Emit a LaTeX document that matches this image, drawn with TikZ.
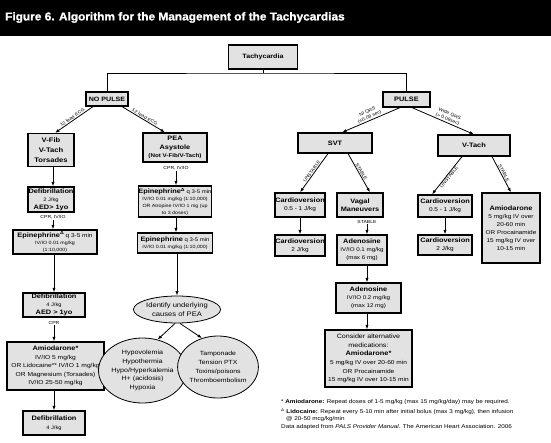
\documentclass[tikz,border=0pt]{standalone}
\usepackage{fontspec}
\setmainfont[FakeStretch=1.15]{Liberation Sans}
\newfontfamily\titlefont[FakeStretch=1.04,FakeBold=1.3]{Liberation Sans}
\usetikzlibrary{arrows.meta,shapes.geometric}
\definecolor{boxgray}{RGB}{226,226,226}
\newcommand\fs[2]{\fontsize{#1}{#2}\selectfont}
\newcommand\Hd{\fontsize{6.4}{8}\selectfont\bfseries}
\newcommand\tri{\textsuperscript{Δ}}
\begin{document}
\begin{tikzpicture}[x=1pt,y=-1pt,
  box/.style={draw,line width=1.2pt,fill=boxgray,align=center,inner sep=0pt},
  oval/.style={draw,line width=0.8pt,fill=boxgray,ellipse,align=center,inner sep=0pt},
  arr/.style={-{Latex[length=4.5pt,width=3.2pt]},line width=0.8pt},
  ln/.style={line width=0.8pt},
  lbl/.style={inner sep=0.8pt,align=center,font=\fs{4.4}{5.6}},
  steplbl/.style={inner sep=0.6pt,font=\fs{4.4}{5}},
  foot/.style={anchor=west,inner sep=0pt,font=\fs{5.5}{6}}]
\useasboundingbox (0,0) rectangle (551,442);
\fill[white] (0,0) rectangle (551,442);
\fill[black] (0,0) rectangle (551,36);
\node[anchor=west,text=white,inner sep=0pt,font=\titlefont\bfseries\fs{11.4}{13}] (title) at (5,17.5) {Figure 6. Algorithm for the Management of the Tachycardias};

% top
\node[box,minimum width=69,minimum height=24,font=\fs{6.2}{8}\bfseries] (tach) at (263,57) {Tachycardia};
\node[box,minimum width=42,minimum height=14,font=\fs{6.2}{8}\bfseries] (nop) at (107,99) {NO PULSE};
\node[box,minimum width=47,minimum height=15,font=\fs{6.4}{8}\bfseries] (pul) at (406.5,99.5) {PULSE};
\coordinate (j) at (263,73);
\draw[ln] (tach.south) -- (j);
\draw[ln] (nop.north) |- (j) -| (pul.north);

% left column
\node[box,minimum width=46,minimum height=33,font=\fs{6.6}{10}\bfseries] (vfib) at (51,150) {V-Fib\\V-Tach\\Torsades};
\node[box,minimum width=46,minimum height=25,font=\fs{5}{8}] (def1) at (51,199.5) {{\Hd Defibrillation}\\2 J/kg\\{\Hd AED> 1yo}};
\node[steplbl] (lab1) at (53,217) {CPR, IV/IO};
\node[box,minimum width=84,minimum height=24,font=\fs{4.6}{7}] (epi1) at (55,242) {{\Hd Epinephrine\tri} {\fs{5.6}{7}q 3-5 min}\\IV/IO 0.01 mg/kg\\(1:10,000)};
\node[box,minimum width=62,minimum height=24,font=\fs{5}{8}] (def2) at (54,305) {{\Hd Defibrillation}\\4 J/kg\\{\Hd AED > 1yo}};
\node[steplbl] (lab2) at (54,323) {CPR};
\node[box,minimum width=97,minimum height=48,font=\fs{5.8}{8.6}] (amio1) at (55.5,366) {{\Hd Amiodarone*}\\IV/IO 5 mg/kg\\OR Lidocaine** IV/IO 1 mg/kg\\OR Magnesium (Torsades)\\IV/IO 25-50 mg/kg};
\node[box,minimum width=62,minimum height=24,font=\fs{5}{9}] (def3) at (54,423) {{\Hd Defibrillation}\\4 J/kg};

% middle column
\node[box,minimum width=64,minimum height=29,font=\fs{6.4}{8.8}\bfseries] (pea) at (175,147.5) {PEA\\Asystole\\{\fs{5.4}{8}(Not V-Fib/V-Tach)}};
\node[steplbl] (lab3) at (176,168) {CPR, IV/IO};
\node[box,minimum width=66,minimum height=31,font=\fs{4.6}{6.8}] (epi2) at (175,201.5) {{\Hd Epinephrine\tri} {\fs{5.2}{7}q 3-5 min}\\IV/IO 0.01 mg/kg (1:10,000)\\OR Atropine IV/IO 1 mg (up\\to 3 doses)};
\node[box,minimum width=75,minimum height=20,font=\fs{4.6}{7.5}] (epi3) at (175,243) {{\Hd Epinephrine} {\fs{5.2}{7}q 3-5 min}\\IV/IO 0.01 mg/kg (1:10,000)};
\node[oval,minimum width=83,minimum height=27,font=\fs{6.6}{8.5}] (ell) at (177,309.5) {Identify underlying\\causes of PEA};
\node[oval,minimum width=59,minimum height=65,font=\fs{6.2}{8.8}] (c1) at (142.5,370.5) {Hypovolemia\\Hypothermia\\Hypo/Hyperkalemia\\H+ (acidosis)\\Hypoxia};
\node[oval,minimum width=59,minimum height=62,font=\fs{6}{9}] (c2) at (218,367) {Tamponade\\Tension PTX\\Toxins/poisons\\Thromboembolism};

\draw[arr] ([xshift=-14]nop.south) -- node[lbl,sloped,above]{12 lead ECG} ([xshift=4]vfib.north);
\draw[arr] ([xshift=15]nop.south) -- node[lbl,sloped,above]{12 lead ECG} ([xshift=-10]pea.north);
\draw[arr] (vfib.south -| lab1) -- (lab1 |- def1.north);
\draw[arr] (lab1.south) -- (lab1.south |- epi1.north);
\draw[arr] (epi1.south -| lab2) -- (lab2 |- def2.north);
\draw[arr] (lab2.south) -- (lab2.south |- amio1.north);
\draw[arr] (amio1.south -| lab2) -- (lab2 |- def3.north);

\draw[arr] (lab3.south) -- (lab3.south |- epi2.north);
\draw[arr] (epi2.south -| lab3) -- (lab3 |- epi3.north);
\draw[arr] (epi3.south -| ell) -- (ell.north);
\draw[arr] (ell.262) -- (c1.64);
\draw[arr] (ell.282) -- (c2.119);

% right side
\node[box,minimum width=74,minimum height=20,font=\fs{6.4}{8}\bfseries] (svt) at (335,143) {SVT};
\node[box,minimum width=72,minimum height=21,font=\fs{6.4}{8}\bfseries] (vt) at (474,145.5) {V-Tach};
\draw[arr] ([xshift=-6.5]pul.south) -- node[lbl,sloped,above]{Nl QRS\\(≤0.08 sec)} ([xshift=7]svt.north);
\draw[arr] ([xshift=5.5]pul.south) -- node[lbl,sloped,above,pos=0.55]{Wide QRS\\(> 0.08sec)} (vt.north);

\node[box,minimum width=50,minimum height=24,font=\fs{5.6}{8}] (cl1) at (300,205) {{\Hd Cardioversion}\\0.5 - 1 J/kg};
\node[box,minimum width=50,minimum height=21,font=\fs{5.6}{8}] (cl2) at (300,245.5) {{\Hd Cardioversion}\\2 J/kg};
\node[box,minimum width=46,minimum height=24,font=\fs{6.4}{8.5}\bfseries] (vag) at (360,205) {Vagal\\Maneuvers};
\node[steplbl] (lab4) at (367,222) {STABLE};
\node[box,minimum width=50,minimum height=30,font=\fs{5.4}{7.8}] (ad1) at (362,250) {{\Hd Adenosine}\\IV/IO 0.1 mg/kg\\(max 6 mg)};
\node[box,minimum width=65,minimum height=30,font=\fs{5.4}{7.8}] (ad2) at (368.5,298) {{\Hd Adenosine}\\IV/IO 0.2 mg/kg\\(max 12 mg)};
\node[box,minimum width=87,minimum height=57,font=\fs{5.7}{8.6}] (cons) at (368.5,358.5) {{\fs{6.2}{8}Consider alternative}\\{\fs{6.2}{8}medications:}\\{\Hd Amiodarone*}\\5 mg/kg IV over 20-60 min\\OR Procainamide\\15 mg/kg IV over 10-15 min};

\node[box,minimum width=54,minimum height=22,font=\fs{5.6}{8}] (cr1) at (445,206) {{\Hd Cardioversion}\\0.5 - 1 J/kg};
\node[box,minimum width=54,minimum height=20,font=\fs{5.6}{8}] (cr2) at (445,245) {{\Hd Cardioversion}\\2 J/kg};
\node[box,minimum width=58,minimum height=70,font=\fs{5.6}{8}] (amr) at (511,228) {{\Hd Amiodarone}\\5 mg/kg IV over\\20-60 min\\OR Procainamide\\15 mg/kg IV over\\10-15 min};

\draw[arr] ([xshift=-7]svt.south) -- node[lbl,sloped,above]{UNSTABLE} (cl1.north);
\draw[arr] ([xshift=13]svt.south) -- node[lbl,sloped,above]{STABLE} ([xshift=10]vag.north);
\draw[arr] ([xshift=-12]vt.south) -- node[lbl,sloped,below]{UNSTABLE} ([xshift=-13]cr1.north);
\draw[arr] ([xshift=18]vt.south) -- node[lbl,sloped,above]{STABLE} (amr.north);
\draw[arr] (cl1.south) -- (cl1.south |- cl2.north);
\draw[arr] (cr1.south) -- (cr1.south |- cr2.north);
\draw[arr] (lab4.south) -- (lab4.south |- ad1.north);
\draw[arr] (ad1.south -| lab4) -- (lab4 |- ad2.north);
\draw[arr] (ad2.south -| lab4) -- (lab4 |- cons.north);

% footnotes
\node[foot] (f1) at (281,402) {* {\bfseries Amiodarone:} Repeat doses of 1-5 mg/kg (max 15 mg/kg/day) may be required.};
\node[foot] (f2) at (281,411.5) {\tri\ {\bfseries Lidocaine:} Repeat every 5-10 min after initial bolus (max 3 mg/kg), then infusion};
\node[foot] (f3) at (286,419.5) {@ 20-50 mcg/kg/min};
\node[foot] (f4) at (281,427.5) {Data adapted from \textit{PALS Provider Manual}. The American Heart Association. 2006};
\end{tikzpicture}
\end{document}
